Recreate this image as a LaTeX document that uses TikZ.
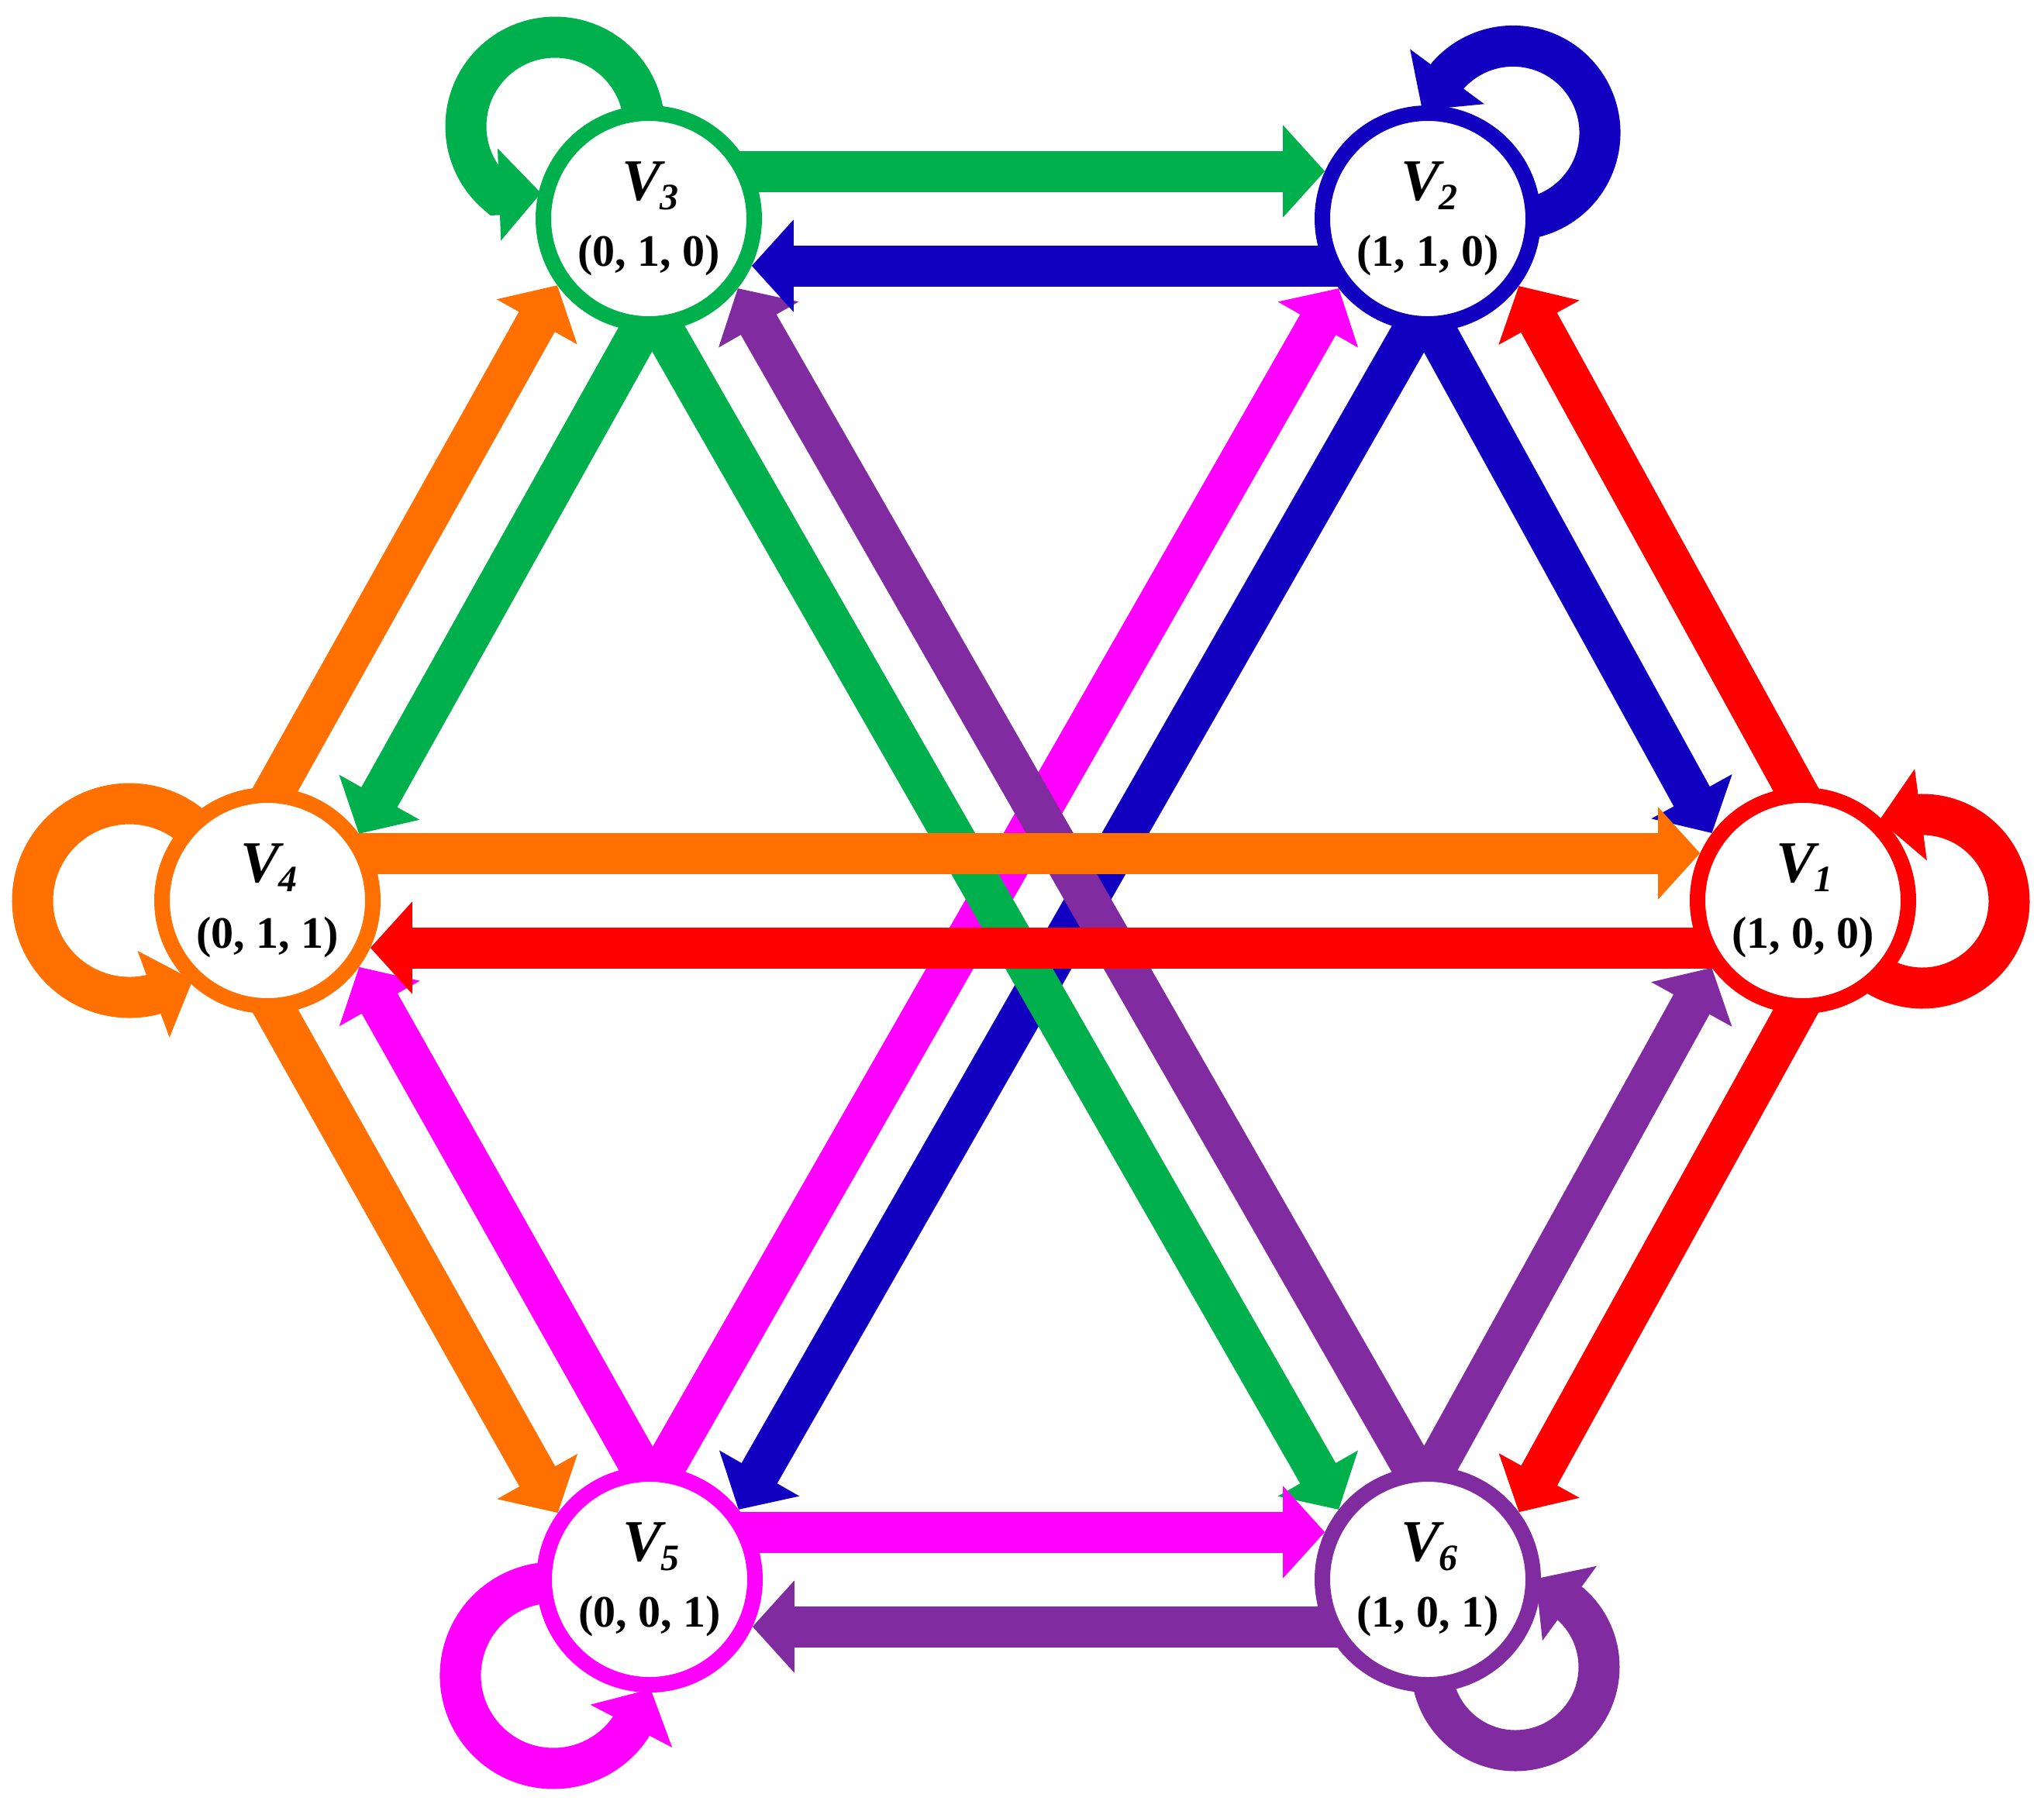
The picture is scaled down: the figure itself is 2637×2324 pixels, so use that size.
\documentclass[tikz,border=0pt]{standalone}
\usepackage{fontspec}
\setmainfont{Liberation Serif}
\usetikzlibrary{arrows.meta,calc}
\definecolor{cgreen}{RGB}{0,176,76}
\definecolor{cblue}{RGB}{17,0,192}
\definecolor{cred}{RGB}{255,0,0}
\definecolor{corange}{RGB}{255,112,0}
\definecolor{cmag}{RGB}{255,0,255}
\definecolor{cpurp}{RGB}{128,44,160}
\pgfdeclarelayer{bg}
\pgfsetlayers{bg,main}
% #1 colour, #2 from, #3 to, #4 side angle, #5 opposite angle, #6 offset, #7 tip shortening
\newcommand\dedge[7]{%
  \draw[arr=#1,shorten <=20pt,shorten >=#7] ($(#2)!#6!#4:(#3)$) -- ($(#3)!#6!#5:(#2)$);}
\newcommand\vv[1]{V\kern-0.5pt\raisebox{-3pt}{\fontsize{12}{12}\selectfont #1}}
\begin{document}
\begin{tikzpicture}[x=0.25pt,y=0.25pt,
  vnode/.style={circle,draw=#1,line width=5pt,fill=white,minimum size=68pt,inner sep=0pt},
  vname/.style={anchor=base,inner sep=0pt,text=black,font=\fontsize{19}{19}\selectfont\bfseries\itshape},
  vcoord/.style={anchor=base,inner sep=0pt,text=black,font=\fontsize{14.5}{14.5}\selectfont\bfseries},
  arr/.style={draw=#1,line width=13.25pt,-{Triangle[length=13.5pt,width=29pt]}},
]
\useasboundingbox (0,0) rectangle (2637,-2324);

% nodes
\node[vnode=cgreen]  (v3) at (837,-282)   {};
\node[vnode=cblue]   (v2) at (1842,-282)  {};
\node[vnode=corange] (v4) at (345,-1162)  {};
\node[vnode=cred]    (v1) at (2326,-1162) {};
\node[vnode=cmag]    (v5) at (838,-2038)  {};
\node[vnode=cpurp]   (v6) at (1842,-2038) {};

\foreach \n/\s/\t in {v1/1/{(1, 0, 0)},v2/2/{(1, 1, 0)},v3/3/{(0, 1, 0)},v4/4/{(0, 1, 1)},v5/5/{(0, 0, 1)},v6/6/{(1, 0, 1)}}{
  \node[vname]  (\n n) at ([shift={(2,24)}]\n.center) {\vv{\s}};
  \node[vcoord] (\n c) at ([shift={(0,-61)}]\n.center) {\t};
}

\begin{pgfonlayer}{bg}
% long diagonals
\dedge{cmag}{v5}{v2}{90}{-90}{13.75pt}{33.8pt}
\dedge{cblue}{v2}{v5}{90}{-90}{13.75pt}{33.8pt}
\dedge{cgreen}{v3}{v6}{-90}{90}{13.75pt}{33.8pt}
\dedge{cpurp}{v6}{v3}{-90}{90}{13.75pt}{33.8pt}
% hexagon sides
\dedge{corange}{v4}{v3}{90}{-90}{15.25pt}{33.2pt}
\dedge{cgreen}{v3}{v4}{90}{-90}{15.25pt}{33.2pt}
\dedge{cblue}{v2}{v1}{-90}{90}{15.25pt}{33.2pt}
\dedge{cred}{v1}{v2}{-90}{90}{15.25pt}{33.2pt}
\dedge{corange}{v4}{v5}{-90}{90}{15.25pt}{33.2pt}
\dedge{cmag}{v5}{v4}{-90}{90}{15.25pt}{33.2pt}
\dedge{cpurp}{v6}{v1}{90}{-90}{15.25pt}{33.2pt}
\dedge{cred}{v1}{v6}{90}{-90}{15.25pt}{33.2pt}
% horizontals
\dedge{cgreen}{v3}{v2}{90}{-90}{15.25pt}{33.2pt}
\dedge{cblue}{v2}{v3}{90}{-90}{15.25pt}{33.2pt}
\dedge{cmag}{v5}{v6}{90}{-90}{15.25pt}{33.2pt}
\dedge{cpurp}{v6}{v5}{90}{-90}{15.25pt}{33.2pt}
\dedge{corange}{v4}{v1}{90}{-90}{15.25pt}{33.2pt}
\dedge{cred}{v1}{v4}{90}{-90}{15.25pt}{33.2pt}
% self loops: arc round the loop centre, then a straight run into the head
\draw[arr=cgreen]  ([shift={(-6,119)}]v3.center) arc[start angle=0,end angle=230,radius=115] -- ++(2:56);
\draw[arr=cblue]   ([shift={(90.6,0.3)}]v2.center) arc[start angle=-100,end angle=138.5,radius=112] -- ++(233.5:56);
\draw[arr=corange] ([shift={(-82.25,80.3)}]v4.center) arc[start angle=40,end angle=283.5,radius=125] -- ++(20.2:56);
\draw[arr=cred]    ([shift={(57,-57)}]v1.center) arc[start angle=-150,end angle=90,radius=112] -- ++(187.6:56);
\draw[arr=cmag]    ([shift={(-103.2,-5.8)}]v5.center) arc[start angle=80,end angle=326,radius=120] -- ++(62.4:56);
\draw[arr=cpurp]   ([shift={(5,-113)}]v6.center) arc[start angle=180,end angle=408.5,radius=108] -- ++(144:56);
\end{pgfonlayer}
\end{tikzpicture}
\end{document}
